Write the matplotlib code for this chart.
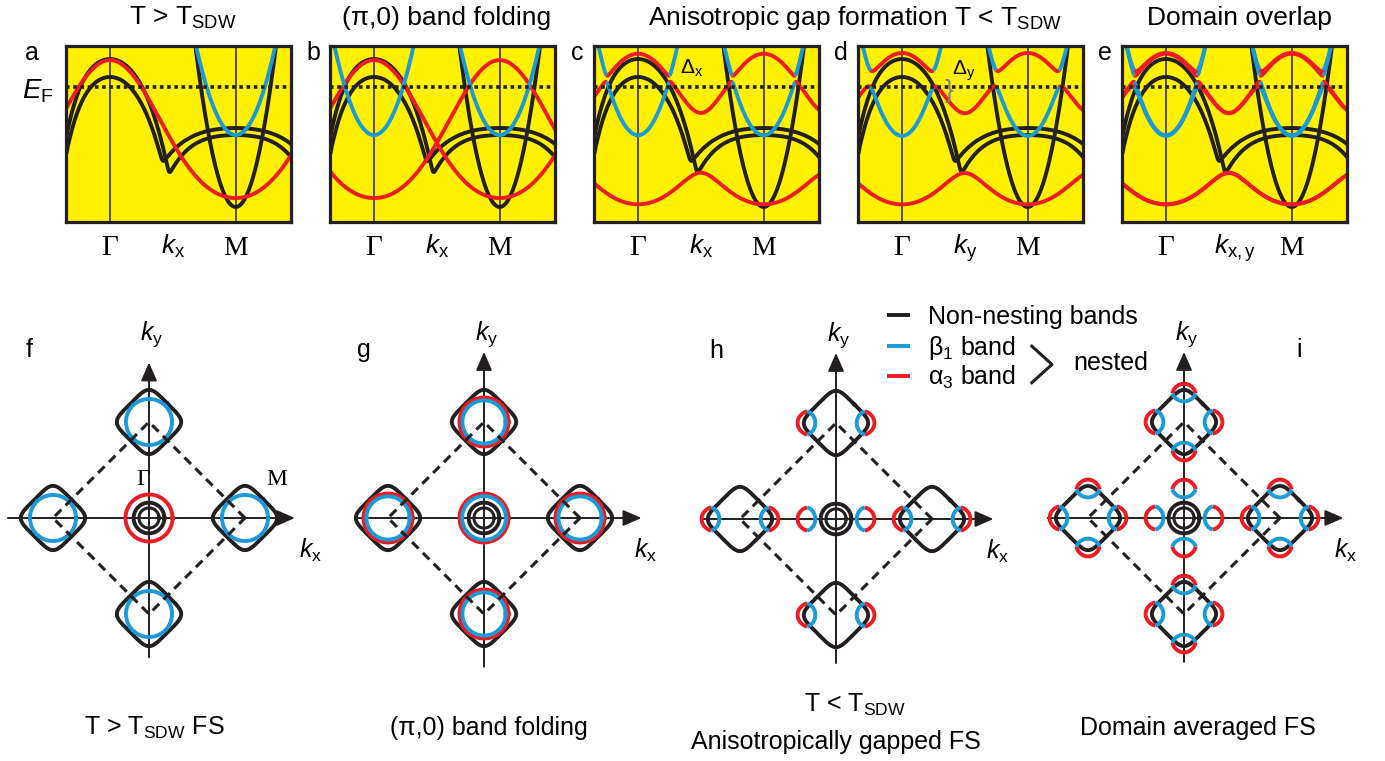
import numpy as np
import matplotlib.pyplot as plt

plt.rcParams['font.family'] = ['Liberation Sans', 'DejaVu Sans']
plt.rcParams['mathtext.fontset'] = 'custom'
plt.rcParams['mathtext.rm'] = 'Liberation Sans'
plt.rcParams['mathtext.it'] = 'Liberation Sans:italic'
plt.rcParams['mathtext.bf'] = 'Liberation Sans:bold'

BLACK = '#231f20'
RED = '#ed1c24'
BLUE = '#1a9ad6'
YELLOW = '#fff100'
SERIF = ['Liberation Serif', 'DejaVu Serif']

# ---- band structure schematic (Gamma at k=0, M at k=1, energy 0..1 inside the box)
k_range = (-0.35, 1.44)
E_F = 0.767

alpha_coef = [0.489, 0.392, 0.039]      # alpha3: const, cos(pi k), cos(2 pi k)
beta_min, beta_curv = 0.494, 5.1        # beta1 electron band
hole_top = [0.926, 0.824]               # non-nesting hole bands at Gamma
hole_k2 = [2.2, 2.2]
hole_k4 = [3.5, 3.5]                    # right side (towards M)
hole_k4_left = [12.0, 11.6]
dome_top = [0.494, 0.534]               # non-nesting bands around M (joined to hole bands)
dome_k2 = [0.30, 0.30]
dome_k4 = [1.79, 0.87]
elec_min, elec_curv = 0.085, 8.9        # narrow electron band at M

V_aa = 0.17                              # alpha3 - folded alpha3 gap
V_ab = {'x': 0.02, 'y': 0.05}            # alpha3 - beta1 gap, kx and ky

top_titles = ['T > T$_{\\rm SDW}$', '(\u03c0,0) band folding', None, None, 'Domain overlap']
top_letters = ['a', 'b', 'c', 'd', 'e']
top_klabels = ['$k_{\\rm x}$', '$k_{\\rm x}$', '$k_{\\rm x}$', '$k_{\\rm y}$', '$k_{\\rm x,y}$']

# ---- Fermi surface schematic (Gamma-M distance = 1)
M_points = [(1, 0), (-1, 0), (0, 1), (0, -1)]
pocket_halfdiag = 0.335
ring_r = [0.16, 0.105]
fs_circles = {
    'f': {'M': [(BLUE, 0.24)], 'G': [(RED, 0.245)]},
    'g': {'M': [(RED, 0.255), (BLUE, 0.225)], 'G': [(RED, 0.255), (BLUE, 0.228)]},
}
lens_dirs = {'h': [(1, 0), (-1, 0)], 'i': [(1, 0), (-1, 0), (0, 1), (0, -1)]}
lens_pos, lens_half, lens_red, lens_blue = 0.30, 0.12, 0.10, 0.085
bottom_letters = ['f', 'g', 'h', 'i']
bottom_titles = {'f': ['T > T$_{\\rm SDW}$ FS'], 'g': ['(\u03c0,0) band folding'],
                 'h': ['T < T$_{\\rm SDW}$', 'Anisotropically gapped FS'], 'i': ['Domain averaged FS']}
legend_labels = ['Non-nesting bands', '\u03b2$_{1}$ band', '\u03b1$_{3}$ band']


def alpha(k):
    return alpha_coef[0] + alpha_coef[1]*np.cos(np.pi*k) + alpha_coef[2]*np.cos(2*np.pi*k)


def beta(k, k0):
    return beta_min + beta_curv*(k - k0)**2


def black_bands(k):
    out = []
    for i in range(2):
        k4 = np.where(k < 0, hole_k4_left[i], hole_k4[i])
        h = hole_top[i] - hole_k2[i]*k**2 - k4*k**4
        d = dome_top[i] - dome_k2[i]*(k - 1)**2 - dome_k4[i]*(k - 1)**4
        s = 0.025
        out.append(s*np.logaddexp(h/s, d/s))
    out.append(elec_min + elec_curv*(k - 1)**2)
    return out


def sdw_bands(k, v):
    H = np.zeros((len(k), 4, 4))
    H[:, 0, 0] = alpha(k)
    H[:, 1, 1] = alpha(k - 1)
    H[:, 2, 2] = beta(k, 0)
    H[:, 3, 3] = beta(k, 1)
    H[:, 0, 1] = H[:, 1, 0] = V_aa
    H[:, 0, 2] = H[:, 2, 0] = v
    H[:, 1, 3] = H[:, 3, 1] = v
    vals, vecs = np.linalg.eigh(H)
    red_w = vecs[:, 0, :]**2 + vecs[:, 1, :]**2
    return vals, red_w


def plot_runs(ax, k, E, is_red, lw=2.8, z=3):
    idx = np.flatnonzero(np.diff(is_red.astype(int))) + 1
    starts = np.r_[0, idx]
    ends = np.r_[idx, len(k)]
    for s, e in zip(starts, ends):
        sl = slice(max(s - 1, 0), e)
        ax.plot(k[sl], E[sl], color=RED if is_red[s] else BLUE, lw=lw,
                solid_capstyle='butt', zorder=z)


fig = plt.figure(figsize=(13.85, 7.61), dpi=100)
W, Hpx = 1385, 761

k = np.linspace(k_range[0], k_range[1], 1500)
top_left = [66, 330, 594, 858, 1122]
for p in range(5):
    ax = fig.add_axes([top_left[p]/W, (Hpx - 222)/Hpx, 225/W, 176/Hpx])
    ax.set_facecolor(YELLOW)
    ax.set_xlim(*k_range)
    ax.set_ylim(0, 1)
    ax.set_xticks([])
    ax.set_yticks([])
    for sp in ax.spines.values():
        sp.set_linewidth(2.3)
        sp.set_color(BLACK)
        sp.set_zorder(10)
    ax.axvline(0, color=BLACK, lw=1.1, zorder=1)
    ax.axvline(1, color=BLACK, lw=1.1, zorder=1)
    for b in black_bands(k):
        ax.plot(k, b, color=BLACK, lw=2.8, zorder=2)
    if p == 0:
        ax.plot(k, alpha(k), color=RED, lw=2.8, zorder=3)
        ax.plot(k, beta(k, 1), color=BLUE, lw=2.8, zorder=3)
    elif p == 1:
        ax.plot(k, alpha(k), color=RED, lw=2.8, zorder=3)
        ax.plot(k, alpha(k - 1), color=RED, lw=2.8, zorder=3)
        ax.plot(k, beta(k, 0), color=BLUE, lw=2.8, zorder=3)
        ax.plot(k, beta(k, 1), color=BLUE, lw=2.8, zorder=3)
    else:
        dirs = {2: ['x'], 3: ['y'], 4: ['x', 'y']}[p]
        for dname in dirs:
            vals, red_w = sdw_bands(k, V_ab[dname])
            for j in range(4):
                plot_runs(ax, k, vals[:, j], red_w[:, j] > 0.5)
    ax.axhline(E_F, color=BLACK, lw=2.6, ls=(0, (1, 1)), zorder=6)

    ax.text(0, -0.19, '\u0393', family=SERIF, fontsize=21, ha='center', va='baseline')
    ax.text(1, -0.19, 'M', family=SERIF, fontsize=20, ha='center', va='baseline')
    ax.text(0.5 if p < 4 else 0.55, -0.18, top_klabels[p], fontsize=19, ha='center', va='baseline')
    lx = -0.15 if p == 0 else -0.075
    ax.text(lx, 0.92, top_letters[p], transform=ax.transAxes, fontsize=18,
            ha='center', va='baseline')
    if top_titles[p]:
        ax.text(0.52, 1.12, top_titles[p], transform=ax.transAxes, fontsize=19,
                ha='center', va='baseline')
    if p == 0:
        ax.text(-0.125, 0.70, '$E_{\\rm F}$', transform=ax.transAxes, fontsize=20,
                ha='center', va='baseline')
    if p == 2:
        ax.text(0.43, 0.84, '\u0394$_{\\rm x}$', fontsize=15, ha='center', va='baseline', zorder=8)
    if p == 3:
        ax.text(0.49, 0.835, '\u0394$_{\\rm y}$', fontsize=15, ha='center', va='baseline', zorder=8)
        ax.text(0.37, 0.745, '}', fontsize=19, color='#808080', ha='center', va='center', zorder=8)

fig.text(855/W, 1 - 25/Hpx, 'Anisotropic gap formation T < T$_{\\rm SDW}$', fontsize=19,
         ha='center', va='baseline')


# ---- Fermi surface panels
def rounded_diamond(c, hd, n=5):
    a = hd/(np.sqrt(2)*2**(-1/n))
    t = np.linspace(0, 2*np.pi, 400)
    u = a*np.sign(np.cos(t))*np.abs(np.cos(t))**(2/n)
    v = a*np.sign(np.sin(t))*np.abs(np.sin(t))**(2/n)
    return c[0] + (u + v)/np.sqrt(2), c[1] + (u - v)/np.sqrt(2)


def circle(c, r):
    t = np.linspace(0, 2*np.pi, 300)
    return c[0] + r*np.cos(t), c[1] + r*np.sin(t)


def lens(ax, c, d):
    c = np.array(c, float)
    d = np.array(d, float)
    perp = np.array([-d[1], d[0]])
    t = np.linspace(-1, 1, 80)
    for s, col in [(lens_red, RED), (-lens_blue, BLUE)]:
        along = lens_pos + s*(1 - t**2)**0.65
        pts = c + along[:, None]*d + (lens_half*t)[:, None]*perp
        ax.plot(pts[:, 0], pts[:, 1], color=col, lw=2.8, solid_capstyle='butt', zorder=4)


centers = [(149, 518), (484, 518), (836, 519), (1184, 518)]
x_axis_ends = [(-1.47, 1.52), (-1.32, 1.64), (-1.39, 1.64), (-1.42, 1.66)]
y_axis_ends = [(-1.45, 1.62), (-1.55, 1.73), (-1.5, 1.73), (-1.5, 1.73)]
scale = 96
lo, hi = -1.55, 1.95
for p, name in enumerate(bottom_letters):
    cx, cy = centers[p]
    ax = fig.add_axes([(cx + lo*scale)/W, (Hpx - (cy - lo*scale))/Hpx,
                       (hi - lo)*scale/W, (hi - lo)*scale/Hpx])
    ax.set_xlim(lo, hi)
    ax.set_ylim(lo, hi)
    ax.axis('off')
    ax.patch.set_alpha(0)

    arrow = dict(arrowstyle='-|>,head_length=0.8,head_width=0.35', lw=1.4,
                 color=BLACK, shrinkA=0, shrinkB=0, mutation_scale=14)
    ax.annotate('', xy=(x_axis_ends[p][1], 0), xytext=(x_axis_ends[p][0], 0),
                arrowprops=arrow, zorder=2)
    ax.annotate('', xy=(0, y_axis_ends[p][1]), xytext=(0, y_axis_ends[p][0]),
                arrowprops=arrow, zorder=2)
    bz = M_points[0], M_points[2], M_points[1], M_points[3], M_points[0]
    ax.plot([q[0] for q in bz], [q[1] for q in bz], color=BLACK, lw=2.2,
            ls=(0, (3, 2)), zorder=5)

    for m in M_points:
        x, y = rounded_diamond(m, pocket_halfdiag)
        ax.plot(x, y, color=BLACK, lw=2.8, zorder=3)
    for r, lw in zip(ring_r, [2.8, 2.2]):
        x, y = circle((0, 0), r)
        ax.plot(x, y, color=BLACK, lw=lw, zorder=3)

    if name in fs_circles:
        for col, r in fs_circles[name]['M']:
            for m in M_points:
                x, y = circle(m, r)
                ax.plot(x, y, color=col, lw=2.8, zorder=4)
        for col, r in fs_circles[name]['G']:
            x, y = circle((0, 0), r)
            ax.plot(x, y, color=col, lw=2.8, zorder=4)
    else:
        for d in lens_dirs[name]:
            lens(ax, (0, 0), d)
            for m in M_points:
                lens(ax, m, d)

    ax.text(0.03, 1.86, '$k_{\\rm y}$', fontsize=18, ha='center', va='baseline')
    ax.text(1.68, -0.41, '$k_{\\rm x}$', fontsize=18, ha='center', va='baseline')
    lx = 1.2 if name == 'i' else -1.25
    ax.text(lx, 1.68, name, fontsize=18, ha='center', va='baseline')
    if name == 'f':
        ax.text(-0.06, 0.34, '\u0393', family=SERIF, fontsize=17, ha='center', va='baseline')
        ax.text(1.33, 0.34, 'M', family=SERIF, fontsize=17, ha='center', va='baseline')

    titles = bottom_titles[name]
    if len(titles) == 1:
        ax.text(0.05 if name != 'i' else 0.14, -2.26, titles[0], fontsize=18,
                ha='center', va='baseline')
    else:
        ax.text(0.2, -2.01, titles[0], fontsize=18, ha='center', va='baseline')
        ax.text(0.0, -2.40, titles[1], fontsize=18, ha='center', va='baseline')

    if name == 'h':
        ys = [2.125, 1.80, 1.49]
        for y, col, lab in zip(ys, [BLACK, BLUE, RED], legend_labels):
            ax.plot([0.53, 0.77], [y, y], color=col, lw=2.8, clip_on=False,
                    solid_capstyle='butt')
            ax.text(0.96, y - 0.09, lab, fontsize=18, ha='left', va='baseline')
        ax.plot([2.04, 2.25, 2.04], [1.80, 1.61, 1.42], color=BLACK, lw=2.2, clip_on=False)
        ax.text(2.47, 1.55, 'nested', fontsize=18, ha='left', va='baseline')

fig.savefig('out.png', dpi=100)
